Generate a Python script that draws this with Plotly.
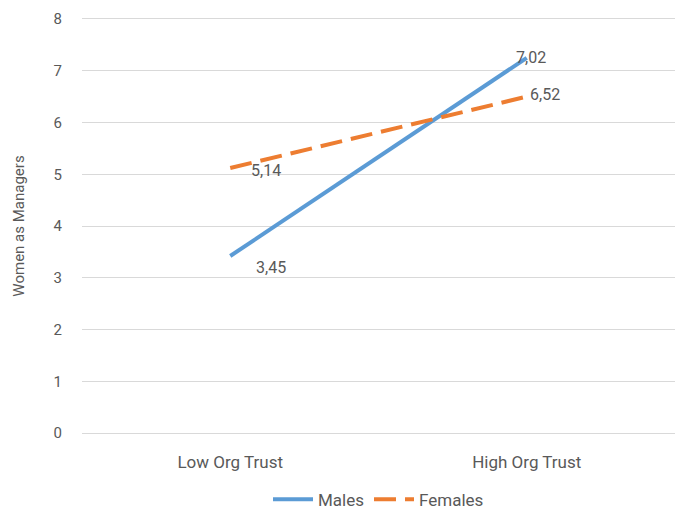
import plotly.graph_objects as go

categories = ["Low Org Trust", "High Org Trust"]
males = [3.42, 7.25]
females = [5.12, 6.5]
male_labels = ["3,45", "7,02"]
female_labels = ["5,14", "6,52"]
y_ticks = [0, 1, 2, 3, 4, 5, 6, 7, 8]

TXT = "#595959"
GRID = "#d9d9d9"
FONT = "Roboto"

fig = go.Figure()
fig.add_trace(go.Scatter(x=categories, y=males, mode="lines", name="Males",
                         line=dict(color="#5b9bd5", width=4)))
fig.add_trace(go.Scatter(x=categories, y=females, mode="lines", name="Females",
                         line=dict(color="#ed7d31", width=4, dash="22px,9px")))

shifts_m = [(24, -11), (-13, 0)]
shifts_f = [(19, -2), (1, 2)]
for cat, val, lab, (dx, dy) in zip(categories, males, male_labels, shifts_m):
    fig.add_annotation(x=cat, y=val, text=lab, showarrow=False, xanchor="left",
                       xshift=dx, yshift=dy, font=dict(size=16, color=TXT, family=FONT))
for cat, val, lab, (dx, dy) in zip(categories, females, female_labels, shifts_f):
    fig.add_annotation(x=cat, y=val, text=lab, showarrow=False, xanchor="left",
                       xshift=dx, yshift=dy, font=dict(size=16, color=TXT, family=FONT))

fig.update_layout(
    width=675, height=510,
    margin=dict(l=82, r=0, t=19, b=77),
    paper_bgcolor="white", plot_bgcolor="white",
    font=dict(family=FONT, color=TXT, size=15),
    showlegend=True,
    legend=dict(orientation="h", x=0.5, xanchor="center", xref="paper",
                y=0.02, yanchor="middle", yref="container", font=dict(size=17, color=TXT),
                itemwidth=40, tracegroupgap=0),
    xaxis=dict(type="category", range=[-0.5, 1.5], showgrid=False, zeroline=False,
               showline=True, linecolor=GRID, linewidth=1, mirror=True,
               ticks="outside", ticklen=14, tickcolor="rgba(0,0,0,0)",
               tickfont=dict(size=17, color=TXT), automargin=False),
    yaxis=dict(range=[0, 8], tickvals=y_ticks, showgrid=True, gridcolor=GRID,
               gridwidth=1, zeroline=False, showline=False, ticks="outside", ticklen=16,
               tickcolor="rgba(0,0,0,0)", tickfont=dict(size=15, color=TXT),
               automargin=False,
               title=dict(text="Women as Managers", font=dict(size=15, color=TXT), standoff=25)),
)

fig.write_html("out.html", config={"displayModeBar": False},
               post_script="document.body.style.margin='0';document.body.style.overflow='hidden';")
